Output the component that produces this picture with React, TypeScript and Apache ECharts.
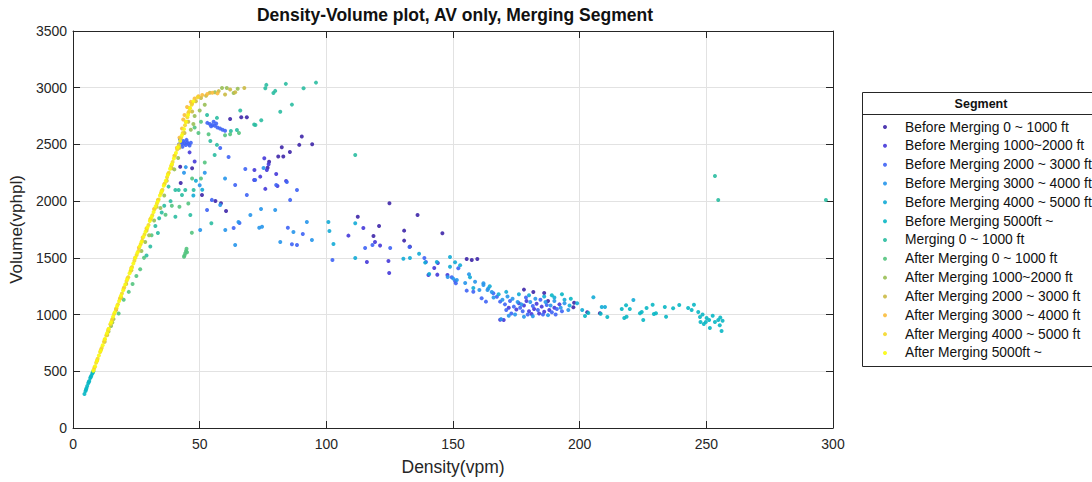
import React, { useEffect, useRef } from "react";
import * as echarts from "echarts";

const categories = [
  "Before Merging 0 ~ 1000 ft",
  "Before Merging 1000~2000 ft",
  "Before Merging 2000 ~ 3000 ft",
  "Before Merging 3000 ~ 4000 ft",
  "Before Merging 4000 ~ 5000 ft",
  "Before Merging 5000ft ~",
  "Merging 0 ~ 1000 ft",
  "After Merging 0 ~ 1000 ft",
  "After Merging 1000~2000 ft",
  "After Merging 2000 ~ 3000 ft",
  "After Merging 3000 ~ 4000 ft",
  "After Merging 4000 ~ 5000 ft",
  "After Merging 5000ft ~",
];

const colors = [
  "#3e26a8", "#4538d9", "#3f64f5", "#2796eb", "#13abd6", "#0ab7c4", "#2bbda1",
  "#54c480", "#99bf55", "#cbba45", "#fabc3c", "#f4d82a", "#f9fb0e",
];

const xTicks = [0, 50, 100, 150, 200, 250, 300];
const yTicks = [0, 500, 1000, 1500, 2000, 2500, 3000, 3500];

const s1 = [
  [62, 2725], [66.4, 2740], [68.6, 2740], [90.3, 2569], [89.3, 2496], [94.4, 2502], [82.4, 2475],
  [85.6, 2434], [81, 2393], [83, 2393], [76.8, 2295], [77.4, 2348], [50.9, 2055], [60.4, 1914],
  [56.2, 2002], [58.4, 1981], [124.9, 1981], [136, 1878], [112.4, 1863], [130.7, 1740], [120.8, 1781],
  [145.8, 1717], [130.7, 1652], [133, 1599], [155.4, 1490], [157.4, 1481], [159.6, 1490], [178, 1220],
  [186, 1190], [181.7, 1199], [187.5, 1120], [197.5, 1064], [197.8, 1105], [208, 1011], [203, 1020],
  [118.6, 1693], [42.5, 2160], [47, 2290], [42.3, 2304],
];

const s2 = [
  [75.5, 2378], [71.6, 2275], [77.2, 2325], [76.5, 2275], [80.2, 2240], [73.9, 2216], [71.5, 2187],
  [84.1, 2178], [75.9, 2108], [80.7, 2134], [108.7, 1696], [114.6, 1764], [116, 1464], [124.5, 1473],
  [124.8, 1367], [119.2, 1640], [121.2, 1608], [140.3, 1349], [144, 1455], [142.6, 1411], [143.8, 1352],
  [147.8, 1349], [172, 1060], [175, 1045], [178, 1080], [180, 1030], [182, 1050], [185, 1070],
  [188, 1040], [190, 1060], [176, 1100], [184, 1010], [192, 1090], [170, 952], [168.6, 955],
  [181, 1005], [186, 1025], [179, 1120], [183, 1095], [46, 2430], [48, 2350],
];

const s3 = [
  [41.8, 2500], [42.5, 2520], [43, 2505], [43.5, 2530], [44, 2510], [44.5, 2495], [45, 2520],
  [45.5, 2505], [46, 2490], [46.5, 2515], [43.2, 2480], [44.8, 2540], [42.2, 2545],
  [53, 2690], [54, 2680], [55, 2670], [55.5, 2700], [56, 2665], [57, 2650], [58, 2640],
  [54.5, 2660], [56.5, 2685], [59, 2630], [60, 2620],
  [58.1, 2469], [61.4, 2390], [68, 2284], [71.9, 2187], [64, 2143], [68.6, 2055], [80.2, 2143],
  [84.4, 2169], [88.4, 2099], [85.7, 2011], [54.8, 2011], [52.9, 1922], [65.7, 1808], [63.4, 1763],
  [84.8, 1766], [90.7, 1711], [86.4, 1620], [88.4, 1614], [102.4, 1481], [115.3, 1587], [118.2, 1614],
  [125.2, 1587], [132.8, 1596], [138.7, 1499], [139.3, 1464], [150.8, 1296], [152.1, 1408],
  [149.5, 1329], [151.1, 1276], [155.4, 1211], [158, 1202], [161.3, 1144], [163, 1114], [165.9, 1188],
  [167.3, 1158], [168.6, 1114], [170.5, 1090], [172.5, 1120], [174, 1070], [176.5, 1060], [177.5, 1030],
  [179.5, 1000], [181.5, 1075], [183.5, 1040], [185.5, 1000], [187, 1085], [189, 1020], [191, 1050],
  [193, 1030], [173, 1010], [171, 1040], [178.8, 1150], [184.5, 1130], [190.5, 1000],
];

const s4 = [
  [74.2, 1931], [70, 1878], [65.3, 1817], [58.1, 1966], [50.2, 1746], [60.1, 1746], [64, 1614],
  [73.5, 1766], [74.6, 1775], [81.8, 1640], [92.3, 1817], [87, 1728], [94.3, 1658], [79.8, 1922],
  [75.2, 2293], [60, 2200], [52, 2250], [50, 2140], [44.5, 2300], [43.8, 2250],
  [147.9, 1331], [150.1, 1317], [151.5, 1305], [154.8, 1279], [156.3, 1355], [158.7, 1290],
  [160.4, 1217], [162, 1276], [163.6, 1217], [165.3, 1199], [163.9, 1230], [162, 1261], [166, 1150],
  [169.5, 1130], [171.5, 1160], [173.5, 1140], [175.5, 1110], [177, 1090], [180.5, 1110], [182.5, 1140],
  [186.5, 1110], [188.5, 1080], [190, 1120], [192.5, 1060], [194, 1100], [174.5, 1000], [178, 980],
  [181.5, 985], [187.5, 995], [195.5, 1040], [169, 960], [172, 990],
];

const s5 = [
  [100.8, 1817], [101.2, 1737], [102.8, 1623], [111.4, 1805], [111.4, 1499], [130.4, 1493],
  [133, 1499], [136.6, 1537], [139, 1458], [140.6, 1358], [143.6, 1464], [148.8, 1508],
  [150.8, 1461], [152.8, 1435], [148.8, 1422], [156.7, 1329], [158, 1235], [164.5, 1250], [168, 1180],
  [171, 1200], [176, 1180], [180, 1170], [186, 1160], [190, 1150], [194, 1130], [196, 1080],
  [199, 1100], [201, 1040], [205.4, 1153], [208.7, 1067], [210, 1067], [221.2, 1129],
  [48.5, 2180], [51, 2100], [47.5, 2050],
];

const s6 = [
  [4.5, 300], [4.9, 325], [5.3, 350], [5.6, 370], [6, 395], [6.4, 415], [6.8, 440], [7.2, 460],
  [7.6, 480], [8, 500], [5.1, 338], [6.2, 405], [7, 450], [7.8, 490],
  [202.1, 988], [203.4, 1014], [208.3, 1008], [210.9, 979], [216.6, 1049], [218.3, 1082], [219.8, 1049],
  [217.6, 970], [218.5, 981], [223.8, 1011], [224.5, 1023], [225.1, 952], [226.4, 1058], [228.8, 1087],
  [229.3, 1005], [230.1, 1011], [234.1, 981], [233.6, 1067], [236.9, 1055], [239.3, 1085], [242.8, 1058],
  [244.2, 1041], [245.1, 1087], [246.8, 1023], [247.5, 979], [247.7, 935], [249, 917], [250.1, 970],
  [251.1, 952], [251.4, 882], [253.4, 935], [254.7, 952], [255.3, 906], [256.4, 946], [256, 855],
  [249.8, 935], [248.5, 1000], [252.5, 990], [255.5, 975], [196.5, 1140], [193, 1180], [189, 1170],
];

const s7 = [
  [76.3, 3025], [84, 3034], [95.9, 3045], [91, 2996], [75.9, 2996], [79.1, 2954], [79.8, 2972],
  [86.4, 2851], [81.8, 2789], [74.3, 2713], [71.5, 2675], [111.4, 2407], [66, 2800], [72, 2672],
  [64.7, 2628], [62.3, 2619], [52.9, 2760], [56.8, 2734], [54.2, 2531], [56.8, 2496], [55.9, 2407],
  [253.4, 2222], [254.7, 2010], [297.2, 2010],
  [37.7, 2128], [40.4, 2099], [41.7, 2099], [43, 2055], [44.3, 2099], [47.6, 2099], [46.3, 1878],
  [40.4, 1863], [54.6, 1805], [36, 1960], [34, 1850], [32.5, 1780], [33.5, 1720], [35, 1900],
  [38.5, 2000], [30.5, 1600], [29, 1520],
];

const s8 = [
  [44.3, 1540], [44.6, 1560], [44, 1520], [44.8, 1580], [45, 1550], [43.8, 1510],
  [46.9, 1722], [50.5, 2200], [52, 2340], [49.5, 2600], [48, 2650], [50.5, 2700], [53.5, 2590],
  [60, 2580], [62, 2590], [65.5, 2600], [25, 1340], [26.5, 1400], [22, 1200], [23.5, 1270],
  [18, 1010], [20, 1130], [28, 1500], [31, 1700], [36.5, 1880], [39, 1960], [42, 1950], [45.5, 1980],
  [47, 2200],
];

const s9 = [
  [58.8, 2998], [60.7, 2998], [63.4, 2954], [65, 2990], [56, 2960], [48, 2750], [47.5, 2680],
  [46.5, 2630], [50, 2800], [52, 2850], [14, 850], [15, 900], [16, 960], [15.5, 930], [27, 1560],
  [28.5, 1640], [30, 1700], [32, 1830], [34.5, 1940], [36, 2050], [40, 2280], [41.5, 2380],
];

const s10 = [
  [67.6, 2998], [62, 2985], [57.5, 2970], [54, 2955], [52.5, 2930], [50.5, 2910], [48.5, 2880],
  [60, 2940], [64, 2960], [12.5, 760], [13.5, 820], [17, 1040], [19, 1150], [21, 1270], [23, 1390],
  [29, 1740], [33, 1950], [37, 2180], [39, 2290], [42, 2470], [44, 2600], [45.5, 2700], [47, 2790],
];

const s11 = [
  [45, 2830], [46.5, 2875], [48, 2905], [49.5, 2925], [51, 2935], [53, 2945], [55, 2955], [57, 2950],
  [44, 2760], [43, 2640], [42, 2560], [41, 2470], [40, 2400], [39, 2320], [37.5, 2240], [36, 2150],
  [35, 2090], [33.5, 2010], [32, 1930], [30.5, 1840], [29, 1760], [27.5, 1680], [26, 1590],
  [24.5, 1500], [23, 1410], [21.5, 1320], [20, 1230], [18.5, 1140], [17, 1050], [15.5, 960],
  [14, 870], [12.5, 780], [11, 690], [9.5, 595], [8.5, 535], [43.5, 2720], [45.5, 2780],
  [46, 2820], [44.5, 2700], [47, 2860],
];

const s12 = [
  [8.2, 515], [9.1, 575], [9.7, 610], [10.7, 670], [11.3, 705], [12.2, 760], [13.1, 815], [13.8, 855],
  [14.7, 915], [15.3, 945], [16.2, 1005], [17.1, 1055], [17.7, 1090], [18.7, 1150], [19.3, 1185],
  [20.2, 1240], [21.1, 1295], [21.8, 1330], [22.7, 1385], [23.3, 1420], [24.2, 1475], [25.1, 1525],
  [25.8, 1560], [26.7, 1620], [27.3, 1650], [28.2, 1705], [29.1, 1755], [29.8, 1790], [30.7, 1845],
  [31.3, 1875], [32.2, 1930], [33.1, 1980], [33.8, 2015], [34.7, 2070], [35.3, 2100], [36.2, 2155],
  [37.1, 2210], [37.8, 2250], [38.7, 2310], [39.3, 2345], [40.2, 2400], [41.1, 2455], [41.8, 2495],
  [42.7, 2560], [43.3, 2600], [44.2, 2670], [45.1, 2740], [45.8, 2790], [46.8, 2850], [49.2, 2915],
];

const s13 = [
  [8, 505], [8.7, 545], [9.4, 590], [10.2, 640], [10.9, 680], [11.7, 730], [12.6, 785], [13.4, 835],
  [14.1, 875], [15, 930], [15.8, 980], [16.5, 1020], [17.4, 1075], [18.2, 1120], [18.9, 1165],
  [19.8, 1215], [20.6, 1265], [21.4, 1310], [22.3, 1365], [23, 1405], [23.8, 1450], [24.6, 1500],
  [25.4, 1545], [26.3, 1600], [27, 1640], [27.8, 1685], [28.6, 1730], [29.4, 1770], [30.3, 1825],
  [31, 1860], [31.8, 1905], [32.6, 1955], [33.4, 1995], [34.3, 2050], [35, 2085], [35.8, 2135],
  [36.6, 2180], [37.4, 2230], [38.3, 2285], [39, 2325], [39.8, 2375], [40.6, 2425], [41.4, 2475],
  [42.3, 2530], [43, 2580], [43.8, 2635], [44.6, 2700], [45.4, 2760], [46.2, 2820], [47.5, 2880],
];

const seriesData = [s1, s2, s3, s4, s5, s6, s7, s8, s9, s10, s11, s12, s13];

const AXIS_COLOR = "#262626";
const FONT = "Liberation Sans, Arial, Helvetica, sans-serif";
const CHART_W = 1120;
const CHART_H = 482;

export default function App() {
  const ref = useRef<HTMLDivElement>(null);
  useEffect(() => {
    if (!ref.current) return;
    const chart = echarts.init(ref.current, undefined, { renderer: "svg" });
    const common = {
      type: "value" as const,
      axisLine: { show: true, onZero: false, lineStyle: { color: AXIS_COLOR, width: 1 } },
      axisTick: { show: true, inside: true, length: 7, lineStyle: { color: AXIS_COLOR } },
    };
    const option = {
      animation: false,
      backgroundColor: "#ffffff",
      textStyle: { fontFamily: FONT },
      color: colors,
      grid: { left: 73, right: CHART_W - 833, top: 31, bottom: 54, containLabel: false },
      xAxis: [
        {
          ...common,
          position: "bottom",
          min: xTicks[0],
          max: xTicks[xTicks.length - 1],
          interval: xTicks[1] - xTicks[0],
          axisLabel: { color: AXIS_COLOR, fontSize: 14, margin: 9, fontFamily: FONT },
          splitLine: { show: true, lineStyle: { color: "#e2e2e2", width: 1 } },
          name: "Density(vpm)",
          nameLocation: "middle",
          nameGap: 30,
          nameTextStyle: { color: AXIS_COLOR, fontSize: 17.5, fontFamily: FONT },
        },
        {
          ...common,
          position: "top",
          min: xTicks[0],
          max: xTicks[xTicks.length - 1],
          interval: xTicks[1] - xTicks[0],
          axisLabel: { show: false },
          splitLine: { show: false },
        },
      ],
      yAxis: [
        {
          ...common,
          position: "left",
          min: yTicks[0],
          max: yTicks[yTicks.length - 1],
          interval: yTicks[1] - yTicks[0],
          axisLabel: {
            color: AXIS_COLOR,
            fontSize: 14,
            margin: 6,
            fontFamily: FONT,
            formatter: (v: number) => String(v),
          },
          splitLine: { show: true, lineStyle: { color: "#e2e2e2", width: 1 } },
          name: "Volume(vphpl)",
          nameLocation: "middle",
          nameGap: 46,
          nameTextStyle: { color: AXIS_COLOR, fontSize: 17, fontFamily: FONT },
        },
        {
          ...common,
          position: "right",
          min: yTicks[0],
          max: yTicks[yTicks.length - 1],
          interval: yTicks[1] - yTicks[0],
          axisLabel: { show: false },
          splitLine: { show: false },
        },
      ],
      legend: {
        orient: "vertical",
        left: 883,
        top: 120,
        padding: 0,
        itemWidth: 30,
        itemHeight: 4,
        itemGap: 4.83,
        icon: "circle",
        z: 5,
        data: categories,
        textStyle: { color: "#111111", fontSize: 13.8, lineHeight: 14, fontFamily: FONT },
        selectedMode: false,
      },
      graphic: [
        {
          type: "rect",
          z: 0,
          shape: { x: 862.5, y: 92.5, width: 240, height: 274 },
          style: { fill: "#ffffff", stroke: AXIS_COLOR, lineWidth: 1 },
        },
        {
          type: "line",
          z: 1,
          shape: { x1: 862.5, y1: 114.5, x2: 1102.5, y2: 114.5 },
          style: { stroke: AXIS_COLOR, lineWidth: 1 },
        },
        {
          type: "text",
          z: 1,
          x: 981,
          y: 103.5,
          style: {
            text: "Segment",
            fill: "#111111",
            font: `bold 12.5px ${FONT}`,
            textAlign: "center",
            textVerticalAlign: "middle",
          },
        },
        {
          type: "text",
          z: 1,
          x: 455,
          y: 15,
          style: {
            text: "Density-Volume plot, AV only, Merging Segment",
            fill: "#111111",
            font: `bold 17.5px ${FONT}`,
            textAlign: "center",
            textVerticalAlign: "middle",
          },
        },
      ],
      series: categories.map((name, i) => ({
        name,
        type: "scatter",
        xAxisIndex: 0,
        yAxisIndex: 0,
        data: seriesData[i],
        symbol: "circle",
        symbolSize: 4,
        itemStyle: { color: colors[i], opacity: 0.9 },
      })),
    };
    chart.setOption(option as any);
    return () => chart.dispose();
  }, []);
  return (
    <div
      style={{
        position: "fixed",
        left: 0,
        top: 0,
        width: 1092,
        height: CHART_H,
        overflow: "hidden",
        background: "#fff",
      }}
    >
      <div ref={ref} style={{ width: CHART_W, height: CHART_H }} />
    </div>
  );
}
